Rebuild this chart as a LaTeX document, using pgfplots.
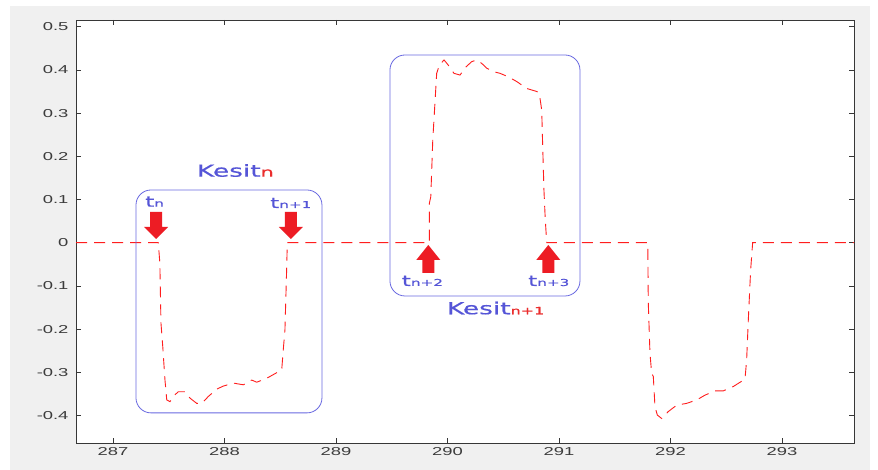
\documentclass[border=0pt]{standalone}
\usepackage{fontspec}
\usepackage{pgfplots}
\pgfplotsset{compat=1.18}
\newfontfamily\tickfont[FakeStretch=1.6]{Liberation Sans}
\newfontfamily\annfont[FakeStretch=1.6,FakeBold=0.6]{DejaVu Sans}
\definecolor{figgray}{RGB}{240,240,240}
\definecolor{axgray}{RGB}{55,55,55}
\definecolor{lblgray}{RGB}{60,60,60}
\definecolor{kblue}{RGB}{85,85,215}
\definecolor{boxblue}{RGB}{105,105,225}
\definecolor{kred}{RGB}{235,45,45}
\definecolor{arrred}{RGB}{237,28,36}
\definecolor{linered}{RGB}{255,30,30}
\begin{document}
\begin{tikzpicture}[x=1pt,y=1pt]
\fill[white] (0,0) rectangle (878,470);
\fill[figgray] (10,0) rectangle (870,464);
\begin{axis}[
  at={(76pt,27pt)}, anchor=south west, scale only axis,
  width=778pt, height=423pt,
  xmin=286.668, xmax=293.646, ymin=-0.4637, ymax=0.5155,
  axis background/.style={fill=white},
  axis line style={axgray, line width=0.8pt},
  tick style={axgray, line width=0.6pt},
  tick align=inside, major tick length=5pt,
  tick pos=both, xticklabel pos=lower, yticklabel pos=left,
  xtick={287,288,289,290,291,292,293},
  xticklabels={287,288,289,290,291,292,293},
  ytick={-0.4,-0.3,-0.2,-0.1,0,0.1,0.2,0.3,0.4,0.5},
  yticklabels={-0.4,-0.3,-0.2,-0.1,0,0.1,0.2,0.3,0.4,0.5},
  ticklabel style={font=\tickfont\fontsize{11.5}{13}\selectfont, text=lblgray},
  xticklabel style={yshift=-1pt},
  yticklabel style={xshift=-4pt},
]
\addplot[linered, line width=0.9pt, dash pattern=on 11pt off 7pt, mark=none] table {
286.668 0
287.406 0
287.420 -0.047
287.430 -0.186
287.446 -0.240
287.466 -0.318
287.482 -0.364
287.511 -0.368
287.556 -0.352
287.586 -0.345
287.646 -0.345
287.691 -0.360
287.751 -0.372
287.796 -0.372
287.855 -0.356
287.930 -0.339
287.989 -0.332
288.079 -0.325
288.169 -0.329
288.244 -0.318
288.289 -0.323
288.378 -0.314
288.468 -0.301
288.513 -0.295
288.527 -0.248
288.542 -0.202
288.558 -0.056
288.563 0
289.837 0
289.837 0.091
289.850 0.106
289.868 0.238
289.888 0.326
289.903 0.392
289.927 0.411
289.969 0.423
290.007 0.411
290.058 0.392
290.112 0.388
290.166 0.407
290.217 0.419
290.262 0.423
290.307 0.415
290.352 0.404
290.411 0.396
290.471 0.392
290.545 0.384
290.621 0.373
290.710 0.357
290.800 0.350
290.823 0.346
290.845 0.307
290.854 0.222
290.865 0.122
290.877 0.053
290.890 0
291.796 0
291.801 -0.140
291.816 -0.256
291.831 -0.302
291.846 -0.310
291.861 -0.380
291.882 -0.399
291.921 -0.407
291.980 -0.391
292.056 -0.376
292.145 -0.372
292.235 -0.364
292.309 -0.353
292.399 -0.343
292.474 -0.343
292.563 -0.333
292.668 -0.316
292.683 -0.272
292.698 -0.179
292.719 -0.063
292.737 0
293.646 0
};
% boxes
\draw[boxblue, line width=0.8pt, rounded corners=15pt] (axis cs:287.206,0.122) rectangle (axis cs:288.874,-0.394);
\draw[boxblue, line width=0.8pt, rounded corners=15pt] (axis cs:289.484,0.4345) rectangle (axis cs:291.188,-0.1234);
% arrows (down)
\fill[arrred] (axis cs:287.386,0.0086) -- ++(-12pt,12pt) -- ++(6pt,0pt) -- ++(0pt,15pt) -- ++(12pt,0pt) -- ++(0pt,-15pt) -- ++(6pt,0pt) -- cycle;
\fill[arrred] (axis cs:288.596,0.0086) -- ++(-12pt,12pt) -- ++(6pt,0pt) -- ++(0pt,15pt) -- ++(12pt,0pt) -- ++(0pt,-15pt) -- ++(6pt,0pt) -- cycle;
% arrows (up)
\fill[arrred] (axis cs:289.828,-0.0053) -- ++(-12pt,-15pt) -- ++(6pt,0pt) -- ++(0pt,-13pt) -- ++(12pt,0pt) -- ++(0pt,13pt) -- ++(6pt,0pt) -- cycle;
\fill[arrred] (axis cs:290.904,-0.0053) -- ++(-12pt,-15pt) -- ++(6pt,0pt) -- ++(0pt,-13pt) -- ++(12pt,0pt) -- ++(0pt,13pt) -- ++(6pt,0pt) -- cycle;
% labels
\node[anchor=base west, inner sep=0pt, text=kblue, font=\annfont\fontsize{16.5}{18}\selectfont] at (axis cs:287.751,0.1528) {Kesit\textcolor{kred}{\fontsize{13}{15}\selectfont n}};
\node[anchor=base west, inner sep=0pt, text=kblue, font=\annfont\fontsize{16.5}{18}\selectfont] at (axis cs:289.993,-0.1657) {Kesit\textcolor{kred}{\fontsize{10}{12}\selectfont n+1}};
\node[anchor=base west, inner sep=0pt, text=kblue, font=\annfont] at (axis cs:287.287,0.0833) {\fontsize{14.5}{16}\selectfont t\fontsize{9.5}{11}\selectfont n};
\node[anchor=base west, inner sep=0pt, text=kblue, font=\annfont] at (axis cs:288.408,0.0803) {\fontsize{14.5}{16}\selectfont t\fontsize{9.5}{11}\selectfont n+1};
\node[anchor=base west, inner sep=0pt, text=kblue, font=\annfont] at (axis cs:289.589,-0.1002) {\fontsize{14.5}{16}\selectfont t\fontsize{9.5}{11}\selectfont n+2};
\node[anchor=base west, inner sep=0pt, text=kblue, font=\annfont] at (axis cs:290.722,-0.1002) {\fontsize{14.5}{16}\selectfont t\fontsize{9.5}{11}\selectfont n+3};
\end{axis}
\pgfresetboundingbox
\useasboundingbox (0,0) rectangle (878,470);
\end{tikzpicture}
\end{document}
